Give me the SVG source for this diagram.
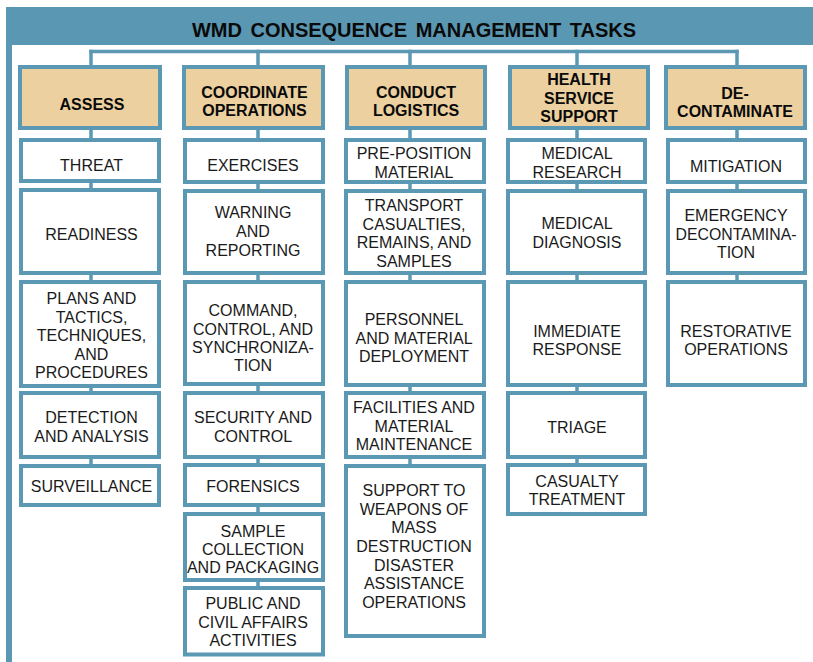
<svg xmlns="http://www.w3.org/2000/svg" width="813" height="662" viewBox="0 0 813 662">
<style>
.bg{fill:#ffffff}
.frame{fill:#5a97b2}
.title{font-family:"Liberation Sans",Arial,sans-serif;font-weight:bold;font-size:20px;fill:#0a0a0a;text-anchor:middle;word-spacing:3px}
.conn{stroke:#5b98b3;stroke-width:3.5;fill:none;stroke-linecap:square}
.head rect{fill:#ecd09f;stroke:#5b98b3;stroke-width:4}
.task rect{fill:#ffffff;stroke:#5b98b3;stroke-width:4}
.head text{font-family:"Liberation Sans",Arial,sans-serif;font-weight:bold;font-size:16px;fill:#0a0a0a;text-anchor:middle}
.task text{font-family:"Liberation Sans",Arial,sans-serif;font-size:16px;fill:#1a1a1a;text-anchor:middle}
</style>
<rect class="bg" x="0" y="0" width="813" height="662"/>
<g id="frame">
<rect class="frame" x="6" y="7" width="807" height="38"/>
<rect class="frame" x="6" y="7" width="6" height="655"/>
<text class="title" x="414" y="37">WMD CONSEQUENCE MANAGEMENT TASKS</text>
</g>
<g id="connectors">
<line class="conn" x1="91" y1="51.5" x2="737" y2="51.5"/>
<line class="conn" x1="91" y1="51.5" x2="91" y2="466"/>
<line class="conn" x1="258" y1="51.5" x2="258" y2="588"/>
<line class="conn" x1="410" y1="51.5" x2="410" y2="466"/>
<line class="conn" x1="577" y1="51.5" x2="577" y2="465"/>
<line class="conn" x1="737" y1="51.5" x2="737" y2="282"/>
</g>
<!-- Headers -->
<g id="h-assess" class="head"><rect x="20" y="67" width="140" height="61"/><text x="92" y="110">ASSESS</text></g>
<g id="h-coordinate" class="head"><rect x="184" y="67" width="139" height="61"/><text x="254.5" y="97.7">COORDINATE</text><text x="254.5" y="115.7">OPERATIONS</text></g>
<g id="h-conduct" class="head"><rect x="347" y="67" width="138" height="61"/><text x="416" y="97.7">CONDUCT</text><text x="416" y="115.7">LOGISTICS</text></g>
<g id="h-health" class="head"><rect x="510" y="67" width="138" height="61"/><text x="579" y="85">HEALTH</text><text x="579" y="103.5">SERVICE</text><text x="579" y="122">SUPPORT</text></g>
<g id="h-decon" class="head"><rect x="666" y="67" width="139" height="61"/><text x="735" y="98.5">DE-</text><text x="735" y="116.5">CONTAMINATE</text></g>
<!-- Column 1 -->
<g id="threat" class="task"><rect x="21" y="140" width="138" height="41"/><text x="91.5" y="171">THREAT</text></g>
<g id="readiness" class="task"><rect x="21" y="190" width="138" height="83"/><text x="91.5" y="240">READINESS</text></g>
<g id="plans" class="task"><rect x="21" y="282" width="138" height="104"/><text x="91.5" y="304">PLANS AND</text><text x="91.5" y="322.5">TACTICS,</text><text x="91.5" y="341">TECHNIQUES,</text><text x="91.5" y="359.5">AND</text><text x="91.5" y="378">PROCEDURES</text></g>
<g id="detection" class="task"><rect x="21" y="393" width="138" height="64"/><text x="91.5" y="423.3">DETECTION</text><text x="91.5" y="442">AND ANALYSIS</text></g>
<g id="surveillance" class="task"><rect x="21" y="466" width="138" height="39"/><text x="91.5" y="492.3">SURVEILLANCE</text></g>
<!-- Column 2 -->
<g id="exercises" class="task"><rect x="185" y="140" width="138" height="42"/><text x="253" y="170.5">EXERCISES</text></g>
<g id="warning" class="task"><rect x="185" y="191" width="138" height="82"/><text x="253" y="218.3">WARNING</text><text x="253" y="237">AND</text><text x="253" y="255.7">REPORTING</text></g>
<g id="command" class="task"><rect x="185" y="282" width="138" height="102"/><text x="253" y="316">COMMAND,</text><text x="253" y="334.5">CONTROL, AND</text><text x="253" y="353">SYNCHRONIZA-</text><text x="253" y="371">TION</text></g>
<g id="security" class="task"><rect x="185" y="393" width="138" height="64"/><text x="253" y="423.3">SECURITY AND</text><text x="253" y="441.7">CONTROL</text></g>
<g id="forensics" class="task"><rect x="185" y="465" width="138" height="40"/><text x="253" y="492.3">FORENSICS</text></g>
<g id="sample" class="task"><rect x="185" y="514" width="138" height="66"/><text x="253" y="536.7">SAMPLE</text><text x="253" y="555">COLLECTION</text><text x="253" y="573">AND PACKAGING</text></g>
<g id="public" class="task"><rect x="185" y="588" width="138" height="66.5"/><text x="253" y="609.3">PUBLIC AND</text><text x="253" y="627.7">CIVIL AFFAIRS</text><text x="253" y="646">ACTIVITIES</text></g>
<!-- Column 3 -->
<g id="preposition" class="task"><rect x="346" y="140" width="138" height="42"/><text x="414" y="159.3">PRE-POSITION</text><text x="414" y="178.3">MATERIAL</text></g>
<g id="transport" class="task"><rect x="346" y="191" width="138" height="82"/><text x="414" y="211">TRANSPORT</text><text x="414" y="229.5">CASUALTIES,</text><text x="414" y="248.3">REMAINS, AND</text><text x="414" y="267">SAMPLES</text></g>
<g id="personnel" class="task"><rect x="346" y="282" width="138" height="103"/><text x="414" y="325">PERSONNEL</text><text x="414" y="344">AND MATERIAL</text><text x="414" y="362.3">DEPLOYMENT</text></g>
<g id="facilities" class="task"><rect x="346" y="393" width="138" height="64"/><text x="414" y="413.3">FACILITIES AND</text><text x="414" y="431.7">MATERIAL</text><text x="414" y="450">MAINTENANCE</text></g>
<g id="support" class="task"><rect x="346" y="466" width="138" height="170"/><text x="414" y="496">SUPPORT TO</text><text x="414" y="514.5">WEAPONS OF</text><text x="414" y="533.3">MASS</text><text x="414" y="551.7">DESTRUCTION</text><text x="414" y="570.5">DISASTER</text><text x="414" y="589.3">ASSISTANCE</text><text x="414" y="608">OPERATIONS</text></g>
<!-- Column 4 -->
<g id="medresearch" class="task"><rect x="508" y="140" width="137" height="42"/><text x="577" y="159.3">MEDICAL</text><text x="577" y="178.3">RESEARCH</text></g>
<g id="meddiagnosis" class="task"><rect x="508" y="191" width="137" height="82"/><text x="577" y="229.3">MEDICAL</text><text x="577" y="248.3">DIAGNOSIS</text></g>
<g id="immediate" class="task"><rect x="508" y="282" width="137" height="103"/><text x="577" y="337.3">IMMEDIATE</text><text x="577" y="355">RESPONSE</text></g>
<g id="triage" class="task"><rect x="508" y="393" width="137" height="64"/><text x="577" y="433.3">TRIAGE</text></g>
<g id="casualty" class="task"><rect x="508" y="465" width="137" height="49"/><text x="577" y="487.3">CASUALTY</text><text x="577" y="505">TREATMENT</text></g>
<!-- Column 5 -->
<g id="mitigation" class="task"><rect x="668" y="140" width="137" height="42"/><text x="736" y="171.5">MITIGATION</text></g>
<g id="emergency" class="task"><rect x="668" y="191" width="137" height="82"/><text x="736" y="220.7">EMERGENCY</text><text x="736" y="240" textLength="121" lengthAdjust="spacingAndGlyphs">DECONTAMINA-</text><text x="736" y="258.3">TION</text></g>
<g id="restorative" class="task"><rect x="668" y="282" width="137" height="103"/><text x="736" y="337.3">RESTORATIVE</text><text x="736" y="355">OPERATIONS</text></g>
</svg>
